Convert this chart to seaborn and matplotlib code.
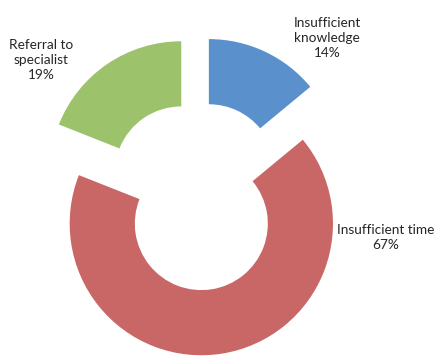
import seaborn as sns
import matplotlib.pyplot as plt

labels = ['Insufficient\nknowledge', 'Insufficient time', 'Referral to\nspecialist']
shares = [14, 67, 19]
colors = ['#5A91CC', '#C96767', '#9CC26B']

sns.set_theme(style='white')
plt.rcParams['font.family'] = ['Lato', 'DejaVu Sans']

fig = plt.figure(figsize=(4.41, 3.56), dpi=100)
ax = fig.add_axes([0, 0, 1, 1])

wedges, _ = ax.pie(shares, colors=colors, startangle=90, counterclock=False,
                   explode=[0.21] * len(shares), radius=0.99,
                   wedgeprops={'width': 0.49, 'linewidth': 0})

# label positions (data coords)
label_pos = [(0.98, 1.19), (1.42, -0.31), (-1.17, 1.02)]
for lab, val, (x, y) in zip(labels, shares, label_pos):
    ax.text(x, y, f'{lab}\n{val}%', ha='center', va='center', fontsize=9.8,
            color='#262626', linespacing=1.3)

ax.set_xlim(-1.481, 1.835)
ax.set_ylim(-1.203, 1.474)
ax.set_aspect('equal')
ax.axis('off')

fig.savefig('out.png', dpi=100)
